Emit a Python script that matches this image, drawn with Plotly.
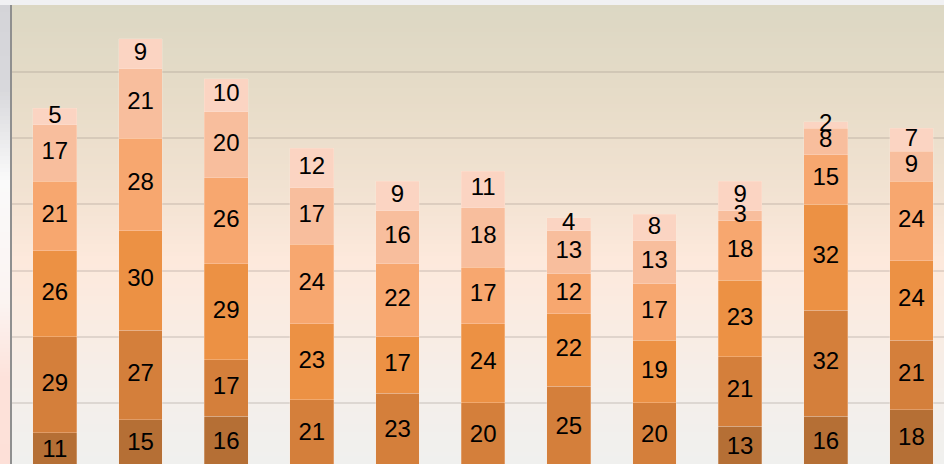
import glob
import plotly.graph_objects as go

# ---- data ----
categories = ["1", "2", "3", "4", "5", "6", "7", "8", "9", "10", "11"]
series_names = ["S1", "S2", "S3", "S4", "S5", "S6"]
s1 = [11, 15, 16, None, None, None, None, None, 13, 16, 18]
s2 = [29, 27, 17, 21, 23, 20, 25, 20, 21, 32, 21]
s3 = [26, 30, 29, 23, 17, 24, 22, 19, 23, 32, 24]
s4 = [21, 28, 26, 24, 22, 17, 12, 17, 18, 15, 24]
s5 = [17, 21, 20, 17, 16, 18, 13, 13, 3, 8, 9]
s6 = [5, 9, 10, 12, 9, 11, 4, 8, 9, 2, 7]
series = [s1, s2, s3, s4, s5, s6]

colors = ["#b56f35", "#d47f3b", "#ec9144", "#f7a76f", "#f8be9d", "#fbd4c2"]

# pick a narrow font if one is installed, else regular Liberation Sans
narrow = glob.glob("/usr/share/fonts/**/LiberationSansNarrow-Regular*", recursive=True)
if narrow:
    FONT, FSIZE = "Liberation Sans Narrow", 26
else:
    FONT, FSIZE = "Liberation Sans", 24

W, H = 944, 464
ML, MT = 12, 5
PH = H - MT

fig = go.Figure()

for name, vals, col in zip(series_names, series, colors):
    fig.add_trace(go.Bar(
        x=categories, y=vals, name=name,
        marker=dict(color=col, line=dict(color="rgba(255,235,220,0.35)", width=0.8)),
        hoverinfo="x+y+name",
    ))

# labels at segment midpoints
base = [0] * len(categories)
for vals in series:
    xs, ys, ts = [], [], []
    for i, v in enumerate(vals):
        if v is None:
            continue
        xs.append(categories[i])
        ys.append(base[i] + v / 2)
        ts.append(str(v))
        base[i] += v
    fig.add_trace(go.Scatter(
        x=xs, y=ys, text=ts, mode="text", cliponaxis=False,
        textfont=dict(family=FONT + ", Arial, sans-serif", size=FSIZE, color="#000000"),
        showlegend=False, hoverinfo="skip",
    ))

# ---- background gradient (style only) ----
def hex2rgb(h):
    h = h.lstrip("#")
    return tuple(int(h[i:i + 2], 16) for i in (0, 2, 4))

def interp(stops, y):
    for (y0, c0), (y1, c1) in zip(stops, stops[1:]):
        if y0 <= y <= y1:
            t = (y - y0) / (y1 - y0) if y1 > y0 else 0
            a, b = hex2rgb(c0), hex2rgb(c1)
            return "rgb(%d,%d,%d)" % tuple(round(a[k] + (b[k] - a[k]) * t) for k in range(3))
    return stops[-1][1] if y > stops[-1][0] else stops[0][1]

plot_stops = [(0, "#dbd7c3"), (100, "#e7dcc8"), (200, "#f3e3d3"), (260, "#fde9dc"),
              (330, "#f9ece3"), (400, "#f4efeb"), (464, "#f0f0ee")]
left_stops = [(0, "#d4d4d8"), (90, "#d8d8dc"), (180, "#fafafa"), (300, "#fbf4f2"),
              (380, "#fde2da"), (464, "#fde0d8")]

shapes = []
step = 4
for y in range(0, H, step):
    p1 = (H - y) / PH
    p0 = (H - y - step - 1) / PH
    shapes.append(dict(type="rect", xref="paper", yref="paper", x0=0, x1=1,
                       y0=max(p0, 0), y1=min(p1, 1), fillcolor=interp(plot_stops, y + step / 2),
                       line=dict(width=0), layer="below"))
    shapes.append(dict(type="rect", xref="paper", yref="paper", x0=-ML / (W - ML) - 0.01, x1=0,
                       y0=max(p0, 0), y1=min(p1, 1), fillcolor=interp(left_stops, y + step / 2),
                       line=dict(width=0), layer="below"))

fig.update_layout(
    width=W, height=H,
    margin=dict(l=ML, r=0, t=MT, b=0, pad=0),
    barmode="stack", bargap=0.49,
    showlegend=False,
    paper_bgcolor="#f1f1f3", plot_bgcolor="#efe6da",
    shapes=shapes,
    xaxis=dict(range=[-0.5, 10.38], showticklabels=False, showgrid=False, zeroline=False,
               ticks="", automargin=False, fixedrange=True),
    yaxis=dict(range=[1.57, 140.2], dtick=20, tick0=0, showticklabels=False, ticks="",
               showgrid=True, gridcolor="rgba(150,140,130,0.24)", gridwidth=1.5,
               zeroline=False, showline=True, linecolor="#8f8f8f", linewidth=2,
               automargin=False, fixedrange=True),
)

fig.write_html("out.html", config={"displayModeBar": False},
               post_script="document.body.style.margin='0';document.body.style.overflow='hidden';")
